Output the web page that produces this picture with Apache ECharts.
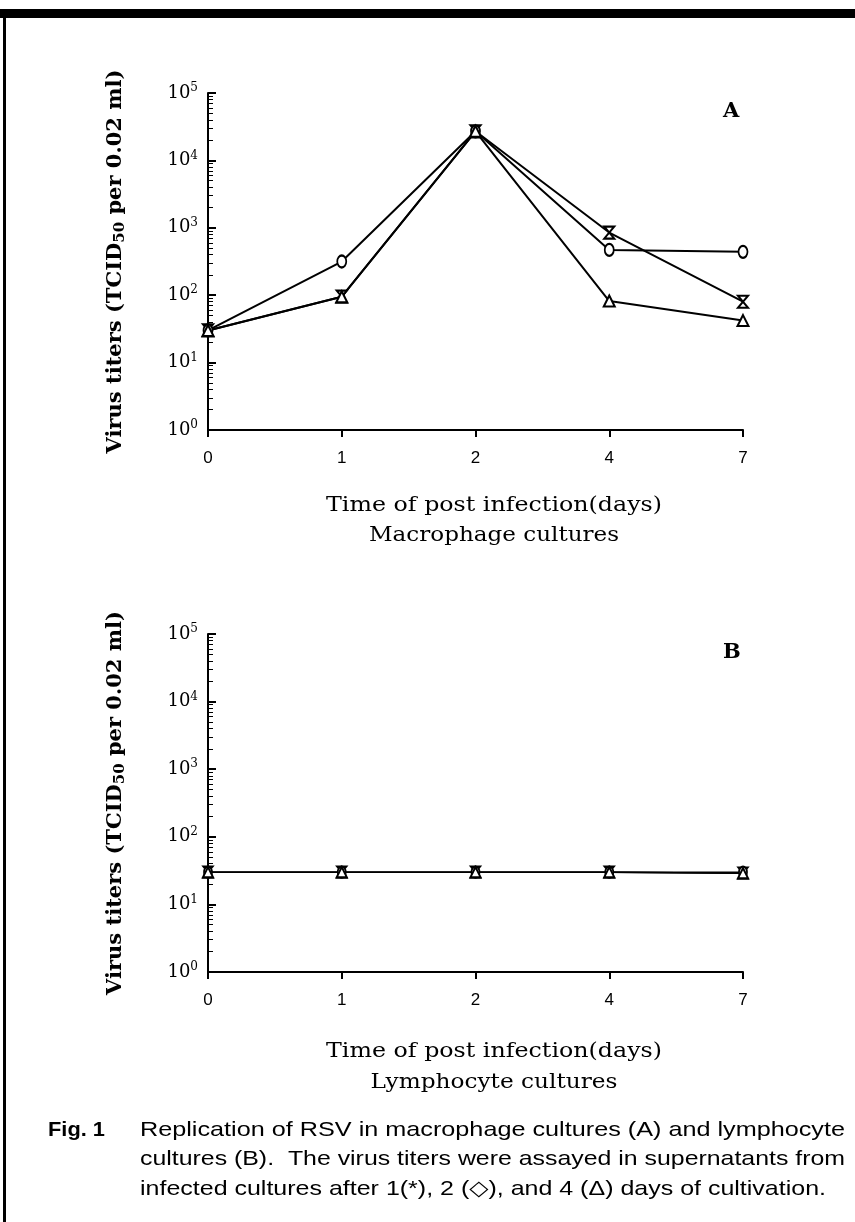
<!DOCTYPE html>
<html><head><meta charset="utf-8">
<script src="https://cdn.jsdelivr.net/npm/echarts@6/dist/echarts.min.js"></script>
<style>html,body{margin:0;padding:0;background:#fff}#c{width:855px;height:1222px}</style>
</head><body><div id="c"></div>
<script>
const days = ['0', '1', '2', '4', '7'];
const yTicks = [1, 10, 100, 1000, 10000, 100000];
const aStar = [30, 95, 27000, 850, 80];
const aDiamond = [30, 316, 27000, 470, 440];
const aTriangle = [30, 95, 27000, 82, 42];
const bStar = [30, 30, 30, 30, 29];
const bDiamond = [30, 30, 30, 30, 30];
const bTriangle = [30, 30, 30, 30, 29];
const seriesNames = ['1 day (*)', '2 days (\u25C7)', '4 days (\u0394)'];
const panelLabels = ['A', 'B'];
const xTitles = [['Time of post infection(days)', 'Macrophage cultures'], ['Time of post infection(days)', 'Lymphocyte cultures']];
const yName = 'Virus titers (TCID{sub|50} per 0.02 ml)';
const captionHead = 'Fig. 1';
const captionLines = [
  'Replication of RSV in macrophage cultures (A) and lymphocyte',
  'cultures (B).  The virus titers were assayed in supernatants from',
  'infected cultures after 1(*), 2 (\u25C7), and 4 (\u0394) days of cultivation.'
];

const SERIF = '"DejaVu Serif", "Liberation Serif", serif';
const SANS = '"Liberation Sans", "DejaVu Sans", sans-serif';
const hourglass = 'path://M0,0 L10,0 L0,12 L10,12 Z';

const mctx = document.createElement('canvas').getContext('2d');
function measure(text, font) { mctx.font = font; return mctx.measureText(text).width; }

const grids = [
  {left: 208, top: 93, width: 535, height: 337},
  {left: 208, top: 634, width: 535, height: 338}
];

function xAxis(i) {
  return {
    type: 'category', gridIndex: i, data: days, boundaryGap: false,
    axisLine: {lineStyle: {color: '#000', width: 2}},
    axisTick: {show: true, alignWithLabel: true, length: 7, lineStyle: {color: '#000', width: 2}},
    axisLabel: {color: '#000', fontFamily: SANS, fontSize: 17, margin: 20},
    splitLine: {show: false}
  };
}
function yAxis(i) {
  return {
    type: 'log', gridIndex: i, min: yTicks[0], max: yTicks[yTicks.length - 1], logBase: 10,
    name: yName, nameLocation: 'middle', nameGap: 82, nameRotate: 90,
    nameTextStyle: {color: '#000', fontFamily: SERIF, fontSize: 21, fontWeight: 'bold',
      rich: {sub: {fontFamily: SERIF, fontSize: 15, fontWeight: 'bold', padding: [0, 0, -10, 0]}}},
    axisLine: {show: true, lineStyle: {color: '#000', width: 2}},
    axisTick: {show: true, inside: true, length: 8, lineStyle: {color: '#000', width: 2}},
    minorTick: {show: true, splitNumber: 9, length: 5, lineStyle: {color: '#000', width: 1}},
    splitLine: {show: false},
    axisLabel: {
      color: '#000', margin: 10,
      formatter: v => '10{sup|' + Math.round(Math.log10(v)) + '}',
      rich: {sup: {fontFamily: SERIF, fontSize: 12, color: '#000', padding: [0, 0, 10, 0]}},
      fontFamily: SERIF, fontSize: 18
    }
  };
}
function mk(name, data, i, symbol, size) {
  return {
    name: name, type: 'line', xAxisIndex: i, yAxisIndex: i, data: data,
    symbol: symbol, symbolSize: size, showSymbol: true,
    lineStyle: {color: '#000', width: i === 0 ? 2 : 1.5},
    itemStyle: {color: '#fff', borderColor: '#000', borderWidth: 2},
    z: 3
  };
}

function fitted(text, font, x, y, target, align) {
  const w = measure(text, font);
  const s = target / w;
  return {type: 'text', x: align === 'center' ? x - target / 2 : x, y: y, scaleX: s,
    style: {text: text, font: font, fill: '#000', verticalAlign: 'middle', align: 'left'}};
}

const titleFont = '21px ' + SERIF;
const capFont = '21px ' + SANS;
const graphic = [
  {type: 'rect', shape: {x: 0, y: 9, width: 855, height: 9}, style: {fill: '#000'}},
  {type: 'rect', shape: {x: 3, y: 9, width: 3, height: 1213}, style: {fill: '#000'}},
  {type: 'text', left: 723, top: 101, style: {text: panelLabels[0], font: 'bold 21px ' + SERIF, fill: '#000'}},
  {type: 'text', left: 723, top: 642, style: {text: panelLabels[1], font: 'bold 21px ' + SERIF, fill: '#000'}},
  fitted(xTitles[0][0], titleFont, 494, 506, 336, 'center'),
  fitted(xTitles[0][1], titleFont, 494, 536, 250, 'center'),
  fitted(xTitles[1][0], titleFont, 494, 1052, 336, 'center'),
  fitted(xTitles[1][1], titleFont, 494, 1083, 247, 'center'),
  fitted(captionHead, 'bold ' + capFont, 48, 1130, 57, 'left')
];
const capTargets = [705, 705, 686];
captionLines.forEach((t, k) => {
  graphic.push(fitted(t, capFont, 140, 1130 + k * 29.5, capTargets[k], 'left'));
});

const chart = echarts.init(document.getElementById('c'), null, {renderer: 'canvas'});
chart.setOption({
  animation: false,
  backgroundColor: '#fff',
  grid: grids,
  xAxis: [xAxis(0), xAxis(1)],
  yAxis: [yAxis(0), yAxis(1)],
  series: [
    mk(seriesNames[0], aStar, 0, hourglass, [10, 12]),
    mk(seriesNames[1], aDiamond, 0, 'circle', [9, 12]),
    mk(seriesNames[2], aTriangle, 0, 'triangle', [11, 11]),
    mk(seriesNames[0], bStar, 1, hourglass, [9, 11]),
    mk(seriesNames[1], bDiamond, 1, 'circle', [8, 11]),
    mk(seriesNames[2], bTriangle, 1, 'triangle', [10, 10])
  ],
  graphic: graphic
});
</script></body></html>
